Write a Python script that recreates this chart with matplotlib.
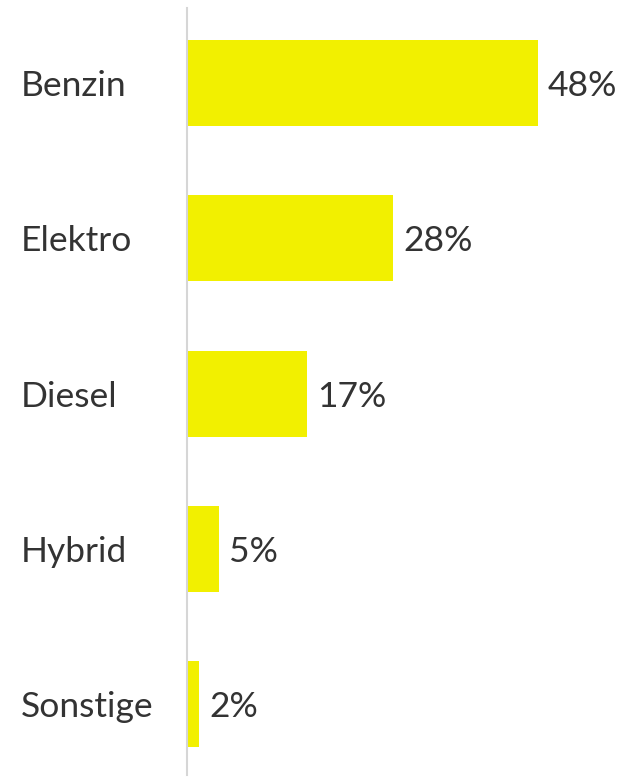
import matplotlib
matplotlib.use("Agg")
import matplotlib.pyplot as plt

categories = ["Benzin", "Elektro", "Diesel", "Hybrid", "Sonstige"]
values = [48.4, 28.4, 16.6, 4.4, 1.7]
value_labels = ["48%", "28%", "17%", "5%", "2%"]

plt.rcParams['font.family'] = ['Lato', 'DejaVu Sans']

W, H = 626, 777
fig = plt.figure(figsize=(W / 100, H / 100), dpi=100)
ax = fig.add_axes([187 / W, 2 / H, 1 - 187 / W, (775 - 8) / H])

ypos = list(range(len(categories)))
ax.barh(ypos, values, height=0.554, color="#F2F000", left=0)
ax.set_xlim(0, 60.53)
ax.set_ylim(4.457, -0.483)

for sp in ["top", "right", "bottom"]:
    ax.spines[sp].set_visible(False)
ax.spines["left"].set_color("#d6d6d6")
ax.spines["left"].set_linewidth(1.5)
ax.set_xticks([])
ax.set_yticks([])

for y, v, lab, cat in zip(ypos, values, value_labels, categories):
    ax.annotate(lab, xy=(v, y), xytext=(10, 0), textcoords="offset pixels",
                va="center_baseline", ha="left", fontsize=25.5, color="#333333")
    ax.annotate(cat, xy=(0, y), xycoords=("axes fraction", "data"),
                xytext=(21 - 187, 0), textcoords="offset pixels",
                va="center_baseline", ha="left", fontsize=25.5, color="#333333")

fig.savefig("out.png", dpi=100)
